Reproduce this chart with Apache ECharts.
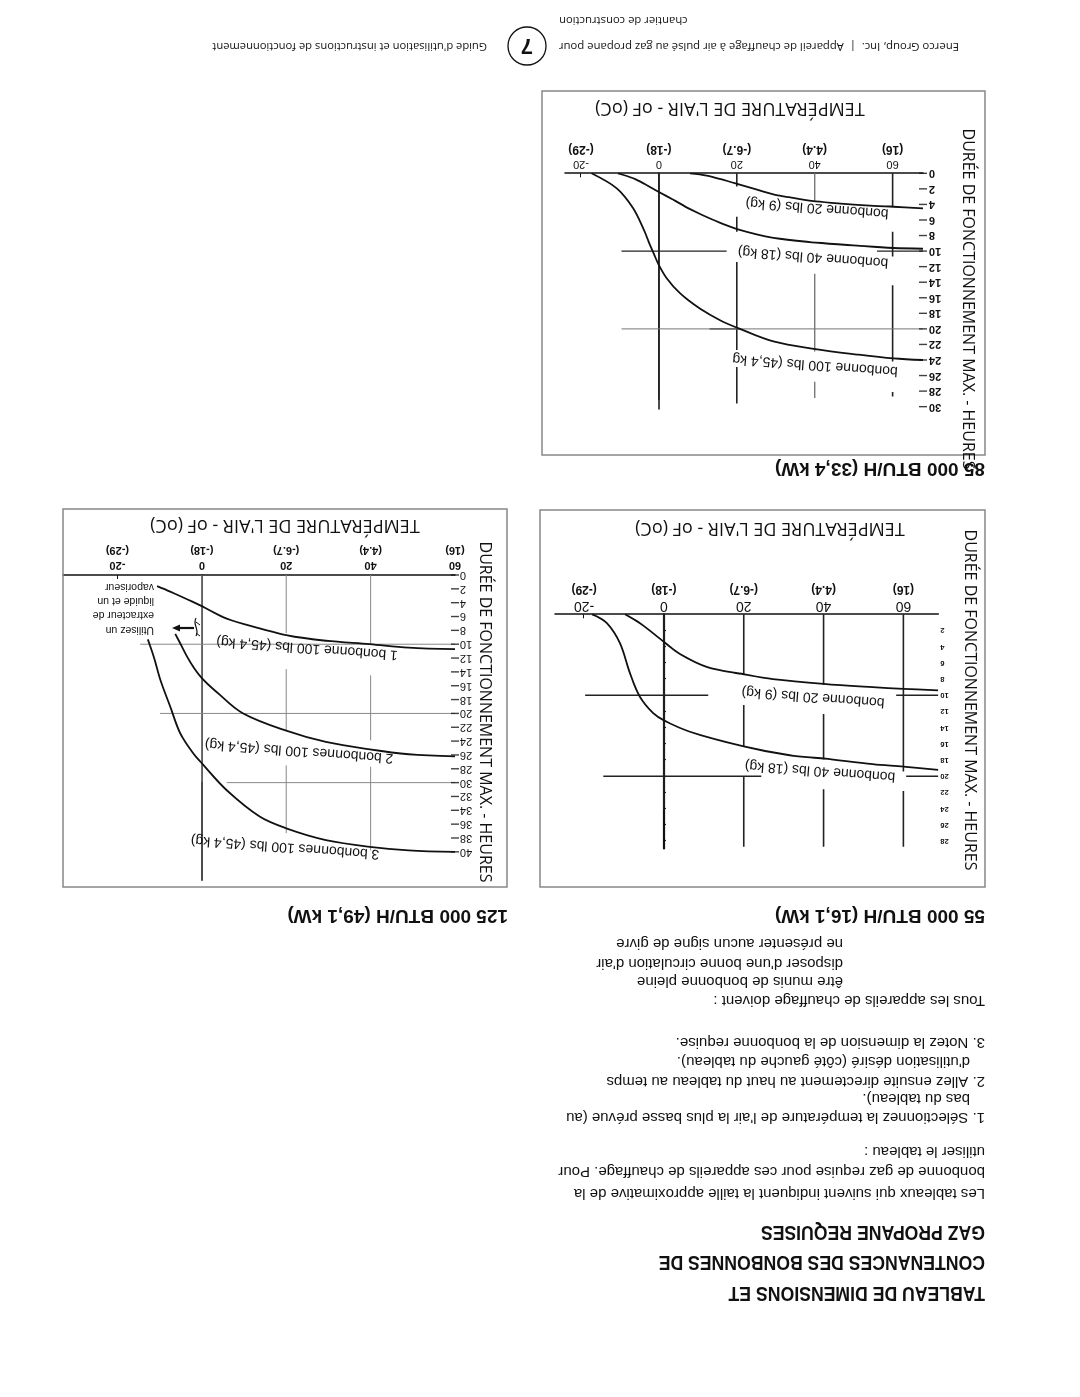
<!DOCTYPE html>
<html><head><meta charset="utf-8">
<script src="https://cdn.jsdelivr.net/npm/echarts@6/dist/echarts.min.js"></script>
<style>html,body{margin:0;padding:0;background:#fff;overflow:hidden}#c{width:1080px;height:1397px;transform:rotate(180deg);transform-origin:50% 50%}</style>
</head><body><div id="c"></div>
<script>
// ---------- data ----------
const tempF = [-20, 0, 20, 40, 60];
const tempC = ['(-29)', '(-18)', '(-6.7)', '(4.4)', '(16)'];
const hoursA = [0,2,4,6,8,10,12,14,16,18,20,22,24,26,28,30];
const hoursB = [2,4,6,8,10,12,14,16,18,20,22,24,26,28];
const hoursC = [0,2,4,6,8,10,12,14,16,18,20,22,24,26,28,30,32,34,36,38,40];

// 85 000 BTU/H chart
const a20T = [8, 12.3, 16.6, 20.3, 25.2, 29.4, 33.7, 40.2, 46.6, 55.2, 60.2, 67.8];
const a20H = [0, 0.3, 0.86, 1.4, 2.1, 2.7, 3.1, 3.6, 3.9, 4.2, 4.3, 4.5];
const a40T = [-10.5, -6.6, -3.2, 0, 3.7, 8, 14, 20.3, 29.4, 40.2, 50.9, 60.2, 67.8];
const a40H = [0, 0.64, 1.5, 2.4, 3.4, 4.6, 6.0, 7.2, 8.3, 8.9, 9.3, 9.6, 9.7];
const a100T = [-17.3, -10.9, -6.6, -4.0, -2.3, -1.0, 0, 2.0, 5.4, 10.6, 15.7, 20.3, 29.4, 40.2, 50.9, 60.2, 67.8];
const a100H = [0, 1.9, 4.5, 7.1, 9.2, 10.7, 11.8, 13.5, 15.4, 17.4, 18.9, 19.9, 21.6, 22.6, 23.3, 23.8, 24.0];

// 55 000 BTU/H chart
const b20T = [-9.75, -6, 0, 4, 10.7, 20, 27.3, 40, 52.3, 60, 68.7];
const b20H = [0, 1.1, 3.4, 4.9, 6.5, 7.4, 8.0, 8.6, 9.0, 9.2, 9.4];
const b40T = [-18, -14.3, -11, -8.5, -6, -2.7, 0, 6.5, 20, 31.5, 40, 52.3, 60, 68.7];
const b40H = [0, 1.1, 3.6, 7.3, 10.2, 12.2, 13.1, 14.5, 16.3, 17.4, 17.8, 18.5, 18.8, 19.2];

// 125 000 BTU/H chart
const c1T = [-10.6, -7.5, -3.5, 0, 5.9, 13.7, 20, 29.4, 39.8, 49, 60];
const c1H = [1.6, 2.4, 3.5, 4.5, 6.3, 7.7, 8.7, 9.5, 10.0, 10.5, 10.7];
const c2T = [-6.3, -5.1, -3.5, -2.0, 0, 3.5, 9.8, 20, 29.4, 39.8, 49, 60];
const c2H = [8.5, 9.9, 11.8, 13.3, 14.9, 16.9, 20.0, 22.5, 24.1, 25.2, 25.9, 26.2];
const c3T = [-12.8, -11.4, -9.8, -7.5, -5.1, -2.0, 0, 5.9, 13.7, 20, 29.4, 39.8, 49, 60];
const c3H = [9.3, 11.8, 15.2, 19.0, 22.9, 25.8, 27.2, 31.1, 34.9, 36.6, 38.3, 39.3, 39.8, 40.0];

// axis extents (temperature at the hour axis / far end, max hours)
const extA = [-24.1, 67.8, 30.3];
const extB = [-27.3, 68.75, 28.9];
const extC = [-32.9, 60, 44.1];

// guide lines: vertical [temp, h0, h1], horizontal [hour, t0, t1]
const aVertDark = [[0,0,29.1],[20,0,1.7],[20,5.6,7.5],[20,11.4,22.7],[20,24.9,29.6],[60,0,4.3],[60,7.5,10.7],[60,14.4,24.2],[60,28.1,28.7]];
const aVertGrey = [[40,0,3.6],[40,12.9,22.9],[40,26.8,28.9]];
const aHorDark = [[10,-9.6,17.4],[10,56,67.8],[20,13,21]];
const aHorGrey = [[20,-9.6,67.8]];
const bVert = [[0,0,24.2],[20,0,7.5],[20,11.2,16.3],[20,20,28.7],[40,0,8.7],[40,12.3,17.9],[40,21.6,28.7],[60,0,19.4],[60,21.8,28.7]];
const bHor = [[10,-19.75,11.1],[10,58.2,68.7],[20,-15.2,24.4],[20,60.7,68.7]];
const cVert = [[0,0,29.9],[20,0,8.4],[20,13.6,22.4],[20,27.5,37.3],[40,0,9.9],[40,14.5,23.9],[40,27.7,39.8]];
const cHor = [[10,-14.6,60],[20,-9.9,60],[30,5.9,60]];

// ---------- helpers ----------
const SANS = '"Liberation Sans",Arial,sans-serif';
const THIN = '"Open Sans","Noto Sans",sans-serif';
const pts = (T, H) => T.map((t, i) => [t, H[i]]);

const series = [];
function curve(gi, T, H) {
  series.push({type:'line', xAxisIndex:gi, yAxisIndex:gi, data:pts(T,H), smooth:0.35, symbol:'none',
    lineStyle:{color:'#111', width:1.8}, z:10, silent:true});
}
function vlines(gi, list, color, width) {
  list.forEach(v => series.push({type:'line', xAxisIndex:gi, yAxisIndex:gi, data:[[v[0],v[1]],[v[0],v[2]]],
    symbol:'none', lineStyle:{color:color, width:width}, z:3, silent:true}));
}
function hlines(gi, list, color, width) {
  list.forEach(h => series.push({type:'line', xAxisIndex:gi, yAxisIndex:gi, data:[[h[1],h[0]],[h[2],h[0]]],
    symbol:'none', lineStyle:{color:color, width:width}, z:3, silent:true}));
}
function crossTicks(gi, hours, xAtAxis, w) {
  series.push({type:'scatter', xAxisIndex:gi, yAxisIndex:gi, data:hours.map(h => [xAtAxis, h]),
    symbol:'rect', symbolSize:[w, 1.4], itemStyle:{color:'#111'}, clip:false, z:12, silent:true});
}

const grids = [
  {left:157, top:988, width:358, height:235.7},
  {left:141.7, top:548.6, width:383.3, height:234.1},
  {left:625, top:516.8, width:392, height:305.2}
].map(g => Object.assign(g, {containLabel:false, outerBoundsMode:'none'}));

function xAx(gi, ext, fSize, fBold, cSize, margin, fLH, cLH) {
  return {type:'value', gridIndex:gi, inverse:true, min:ext[0], max:ext[1], position:'bottom',
    axisLine:{show:true, onZero:false, lineStyle:{color:'#111', width:1.5}},
    splitLine:{show:false},
    axisTick:{show:true, inside:true, length:4, customValues:[-20], lineStyle:{color:'#111'}},
    axisLabel:{show:true, margin:margin, customValues:tempF,
      formatter: v => { const i = tempF.indexOf(v); return '{f|' + v + '}\n{c|' + tempC[i] + '}'; },
      rich:{f:{fontFamily:SANS, fontSize:fSize, fontWeight:fBold?'bold':'normal', color:'#111', lineHeight:fLH},
            c:{fontFamily:SANS, fontSize:cSize, fontWeight:'bold', color:'#111', lineHeight:cLH}}}};
}
function yAx(gi, ext, vals, fSize, bold, margin, lw, tick) {
  return {type:'value', gridIndex:gi, min:0, max:ext[2], position:'left',
    axisLine:{show:true, lineStyle:{color:'#111', width:lw}}, splitLine:{show:false},
    axisTick:{show:tick > 0, length:tick, customValues:vals, lineStyle:{color:'#111', width:1.2}},
    axisLabel:{show:true, margin:margin, customValues:vals, fontFamily:SANS, fontSize:fSize,
      fontWeight:bold?'bold':'normal', color:'#111'}};
}

// guide lines
vlines(0, aVertDark, '#222', 1.6); vlines(0, aVertGrey, '#777', 1.4);
hlines(0, aHorDark, '#222', 1.3); hlines(0, aHorGrey, '#777', 1);
vlines(1, bVert, '#222', 1.6); hlines(1, bHor, '#222', 1.5);
vlines(2, cVert, '#888', 1); hlines(2, cHor, '#888', 1);
// curves
curve(0, a20T, a20H); curve(0, a40T, a40H); curve(0, a100T, a100H);
curve(1, b20T, b20H); curve(1, b40T, b40H);
curve(2, c1T, c1H); curve(2, c2T, c2H); curve(2, c3T, c3H);
// crossing tick marks on the hour axes
crossTicks(0, hoursA, extA[1], 8);
crossTicks(2, hoursC, extC[1], 8);

// ---------- text & frames ----------
const T = (x, y, text, font, align, extra) => Object.assign({type:'text', x:x, y:y, z:20,
  style:{text:text, font:font, fill:'#111', textAlign:align||'left', align:align||'left',
    textVerticalAlign:'middle', verticalAlign:'middle'}}, extra||{});
const ROT = -0.075;
const BODY = '15px ' + SANS;
const HEAD = {scaleX:0.84};
const graphic = [
  {type:'rect', shape:{x:95, y:942, width:443, height:364}, style:{fill:'none', stroke:'#888', lineWidth:1.5}, z:1},
  {type:'rect', shape:{x:95, y:510, width:445, height:377}, style:{fill:'none', stroke:'#888', lineWidth:1.5}, z:1},
  {type:'rect', shape:{x:573, y:510, width:444, height:378}, style:{fill:'none', stroke:'#888', lineWidth:1.5}, z:1},
  T(95, 104, 'TABLEAU DE DIMENSIONS ET', 'bold 21px ' + SANS, 'left', HEAD),
  T(95, 135, 'CONTENANCES DES BONBONNES DE', 'bold 21px ' + SANS, 'left', HEAD),
  T(95, 165, 'GAZ PROPANE REQUISES', 'bold 21px ' + SANS, 'left', HEAD),
  T(95, 204, 'Les tableaux qui suivent indiquent la taille approximative de la', BODY),
  T(95, 226, 'bonbonne de gaz requise pour ces appareils de chauffage. Pour', BODY),
  T(95, 246, 'utiliser le tableau :', BODY),
  T(95, 280, "1. Sélectionnez la température de l'air la plus basse prévue (au", BODY),
  T(110, 299, 'bas du tableau).', BODY),
  T(95, 316, '2. Allez ensuite directement au haut du tableau au temps', BODY),
  T(110, 336, "d'utilisation désiré (côté gauche du tableau).", BODY),
  T(95, 355, '3. Notez la dimension de la bonbonne requise.', BODY),
  T(95, 397, 'Tous les appareils de chauffage doivent :', BODY),
  T(237, 416, 'être munis de bonbonne pleine', BODY),
  T(237, 434, "disposer d'une bonne circulation d'air", BODY),
  T(237, 454, 'ne présenter aucun signe de givre', BODY),
  T(95, 482, '55 000 BTU/H (16,1 kW)', 'bold 19px ' + SANS),
  T(572, 482, '125 000 BTU/H (49,1 kW)', 'bold 19px ' + SANS),
  T(95, 929, '85 000 BTU/H (33,4 kW)', 'bold 19px ' + SANS),
  // axis titles
  T(350, 1289, "TEMPÉRATURE DE L'AIR - oF (oC)", '18px ' + THIN, 'center'),
  T(310, 869, "TEMPÉRATURE DE L'AIR - oF (oC)", '18px ' + THIN, 'center'),
  T(795, 872, "TEMPÉRATURE DE L'AIR - oF (oC)", '18px ' + THIN, 'center'),
  T(112, 1098, 'DURÉE DE FONCTIONNEMENT MAX. - HEURES', '16px ' + THIN, 'center', {rotation:Math.PI/2}),
  T(110, 697, 'DURÉE DE FONCTIONNEMENT MAX. - HEURES', '16px ' + THIN, 'center', {rotation:Math.PI/2}),
  T(595, 685, 'DURÉE DE FONCTIONNEMENT MAX. - HEURES', '16px ' + THIN, 'center', {rotation:Math.PI/2}),
  // curve labels
  T(263, 1189, 'bonbonne 20 lbs (9 kg)', '14px ' + SANS, 'center', {rotation:ROT}),
  T(267, 1140, 'bonbonne 40 lbs (18 kg)', '14px ' + SANS, 'center', {rotation:ROT}),
  T(265, 1032, 'bonbonne 100 lbs (45,4 kg', '14px ' + SANS, 'center', {rotation:ROT}),
  T(267, 700, 'bonbonne 20 lbs (9 kg)', '14px ' + SANS, 'center', {rotation:ROT}),
  T(260, 626, 'bonbonne 40 lbs (18 kg)', '14px ' + SANS, 'center', {rotation:ROT}),
  T(773, 749, '1 bonbonne 100 lbs (45,4 kg)', '14px ' + SANS, 'center', {rotation:ROT}),
  T(781, 646, '2 bonbonnes 100 lbs (45,4 kg)', '14px ' + SANS, 'center', {rotation:ROT}),
  T(795, 550, '3 bonbonnes 100 lbs (45,4 kg)', '14px ' + SANS, 'center', {rotation:ROT}),
  // annotation
  T(926, 767, 'Utilisez un', '10.5px ' + SANS),
  T(926, 782, 'extracteur de', '10.5px ' + SANS),
  T(926, 796, 'liquide et un', '10.5px ' + SANS),
  T(926, 810, 'vaporiseur', '10.5px ' + SANS),
  {type:'polyline', shape:{points:[[886,769],[903,769]]}, style:{stroke:'#111', lineWidth:2.2, fill:'none'}, z:20},
  {type:'polygon', shape:{points:[[908,769],[900,765.5],[900,772.5]]}, style:{fill:'#111'}, z:20},
  {type:'bezierCurve', shape:{x1:884, y1:761, x2:884, y2:779, cpx1:880, cpy1:768, cpx2:888, cpy2:772}, style:{stroke:'#111', lineWidth:1.2, fill:'none'}, z:20},
  {type:'polyline', shape:{points:[[884,764],[880,761]]}, style:{stroke:'#111', lineWidth:1, fill:'none'}, z:20},
  {type:'polyline', shape:{points:[[884,775],[880,772]]}, style:{stroke:'#111', lineWidth:1, fill:'none'}, z:20},
  // footer
  T(521, 1351, 'Enerco Group, Inc.  |  Appareil de chauffage à air pulsé au gaz propane pour', '11.3px ' + THIN, 'right'),
  T(521, 1377, 'chantier de construction', '11.3px ' + THIN, 'right'),
  {type:'circle', shape:{cx:553, cy:1351, r:19}, style:{fill:'none', stroke:'#111', lineWidth:1.3}, z:20},
  T(553, 1352, '7', 'bold 22px ' + SANS, 'center'),
  T(593, 1351, "Guide d'utilisation et instructions de fonctionnement", '11.2px ' + THIN)
];

const option = {
  animation:false,
  backgroundColor:'#fff',
  grid:grids,
  xAxis:[
    xAx(0, extA, 11, false, 12, 2, 14, 16),
    xAx(1, extB, 14, false, 12, 0, 16, 17),
    xAx(2, extC, 11, true, 11, 3, 14, 16)
  ],
  yAxis:[
    yAx(0, extA, hoursA, 11, true, 6, 1.5, 0),
    yAx(1, extB, hoursB, 7.5, true, 2, 2.2, 2),
    yAx(2, extC, hoursC, 11, false, 5, 1.5, 0)
  ],
  series:series,
  graphic:graphic
};
const chart = echarts.init(document.getElementById('c'), null, {renderer:'canvas', width:1080, height:1397});
chart.setOption(option);
</script></body></html>
